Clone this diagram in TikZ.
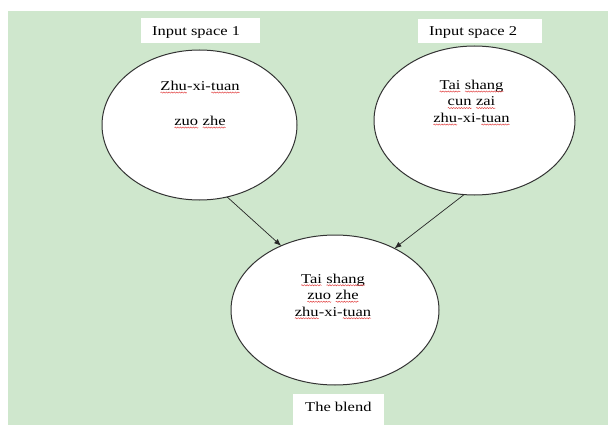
\documentclass[tikz,border=0pt]{standalone}
\usepackage{fontspec}
\setmainfont{Liberation Serif}[FakeStretch=1.22]
\usetikzlibrary{arrows.meta,decorations.pathmorphing,shapes.geometric}
\definecolor{bggreen}{RGB}{207,231,205}
\definecolor{spellred}{RGB}{225,60,60}
\newcommand\wavy[1]{\tikz[baseline=(w.base)]{\node[shape=rectangle,draw=none,fill=none,inner sep=0pt,outer sep=0pt,anchor=base](w){#1};\draw[spellred,line width=0.45pt,decorate,decoration={snake,amplitude=0.6pt,segment length=2.6pt}]([yshift=-2.2pt]w.base west)--([yshift=-2.2pt]w.base east);}}
\tikzset{
 bubble/.style={ellipse, draw=black!80, line width=1pt, fill=white, inner sep=0pt, outer sep=0pt},
 tag/.style={rectangle, fill=white, inner sep=0pt, outer sep=0pt},
 txt/.style={font=\fontsize{13.5}{16.5}\selectfont, inner sep=0pt, align=center},
 link/.style={-{Latex[length=7pt,width=5.5pt]}, line width=0.7pt, draw=black!85}
}
\begin{document}
\begin{tikzpicture}[x=1pt,y=-1pt]
\useasboundingbox (0,0) rectangle (608,425);
\fill[bggreen] (8,11) rectangle (608,425);
% label boxes
\node[tag, minimum width=119pt, minimum height=25pt, anchor=north west] (b1) at (141,18) {};
\node[txt, anchor=base west] (l1) at (152,36) {Input space 1};
\node[tag, minimum width=124pt, minimum height=24pt, anchor=north west] (b2) at (418,19) {};
\node[txt, anchor=base west] (l2) at (429,36) {Input space 2};
\node[tag, minimum width=91pt, minimum height=31pt, anchor=north west] (b3) at (293,394) {};
\node[txt, anchor=base west] (l3) at (305,411) {The blend};
% ellipses
\node[bubble, minimum width=195pt, minimum height=150pt] (e1) at (199.5,125) {};
\node[bubble, minimum width=201pt, minimum height=149pt] (e2) at (474.5,120.5) {};
\node[bubble, minimum width=208pt, minimum height=150pt] (e3) at (335,310) {};
% texts
\node[txt, anchor=north] (t1) at (200,80.8) {\wavy{Zhu}-xi-\wavy{tuan}\\[18.5pt]\wavy{zuo} \wavy{zhe}};
\node[txt, anchor=north] (t2) at (471.5,79.8) {\wavy{Tai} \wavy{shang}\\\wavy{cun} \wavy{zai}\\\wavy{zhu}-xi-\wavy{tuan}};
\node[txt, anchor=north] (t3) at (333,273.5) {\wavy{Tai} \wavy{shang}\\\wavy{zuo} \wavy{zhe}\\\wavy{zhu}-xi-\wavy{tuan}};
% arrows
\draw[link] (e1.-69.3) -- (e3.130.7);
\draw[link] (e2.-98.8) -- (e3.46.5);
\end{tikzpicture}
\end{document}
